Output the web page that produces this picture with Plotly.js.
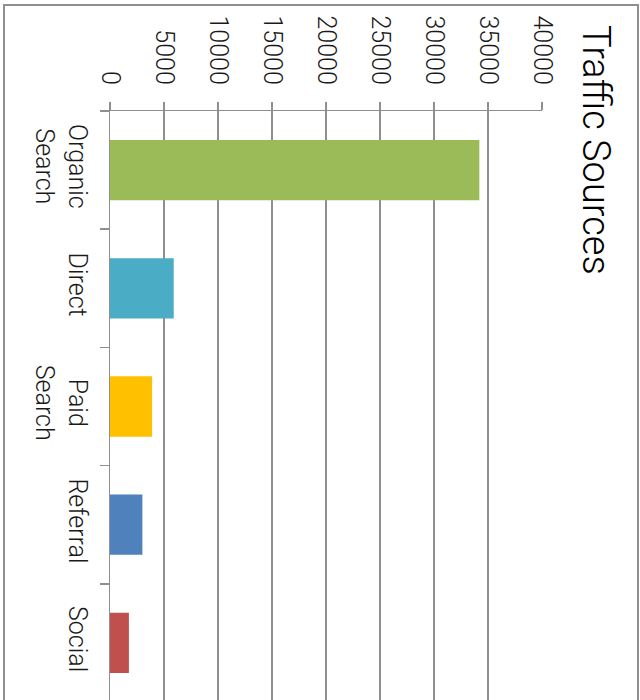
<!DOCTYPE html>
<html>
<head>
<meta charset="utf-8">
<script src="https://cdn.plot.ly/plotly-3.0.1.min.js"></script>
<style>
html,body{margin:0;padding:0;width:640px;height:700px;overflow:hidden;background:#fff;}
#chart{width:640px;height:720px;}
</style>
</head>
<body>
<div id="chart"></div>
<script>
const categories = ["Organic<br>Search", "Direct", "Paid<br>Search", "Referral", "Social"];
const sessions = [34200, 5900, 3900, 3000, 1750];
const barColors = ["#9BBB59", "#4BACC6", "#FFC000", "#4F81BD", "#C0504D"];
const valueTicks = [0, 5000, 10000, 15000, 20000, 25000, 30000, 35000, 40000];
const chartTitle = "Traffic Sources";

const W = 640, H = 720;
const L = 110, R = 98, T = 111, B = 18;
const pw = W - L - R, ph = H - T - B;
function px(x){ return (x - L) / pw; }
function py(y){ return (H - B - y) / ph; }

const FONT = "Roboto, 'Liberation Sans', sans-serif";

const trace = {
  type: "bar",
  orientation: "h",
  y: categories,
  x: sessions,
  marker: {color: barColors, line: {width: 0}},
  width: 0.51,
  hoverinfo: "skip"
};

const layout = {
  width: W, height: H,
  margin: {l: L, r: R, t: T, b: B, pad: 0},
  paper_bgcolor: "#ffffff",
  plot_bgcolor: "#ffffff",
  showlegend: false,
  font: {family: FONT, color: "#1a1a1a", weight: 300},
  xaxis: {
    side: "top",
    range: [0, 40000],
    tickvals: valueTicks,
    ticktext: valueTicks.map(String),
    tickangle: 90,
    tickfont: {family: FONT, size: 25, color: "#1a1a1a", weight: 300},
    showgrid: true, gridcolor: "#8f8f8f", gridwidth: 1.5,
    showline: true, linecolor: "#8f8f8f", linewidth: 1.5,
    ticks: "outside", ticklen: 8, tickcolor: "#8f8f8f", tickwidth: 1.5,
    ticklabelstandoff: 8,
    zeroline: false,
    fixedrange: true
  },
  yaxis: {
    range: [4.5, -0.5],
    type: "category",
    tickangle: 90,
    tickfont: {family: FONT, size: 25, color: "#1a1a1a", weight: 300},
    showgrid: false,
    showline: true, linecolor: "#8f8f8f", linewidth: 1.5,
    ticks: "outside", tickson: "boundaries", ticklen: 9, tickcolor: "#8f8f8f", tickwidth: 1.5,
    ticklabelstandoff: 10,
    zeroline: false,
    fixedrange: true
  },
  shapes: [{
    type: "rect", xref: "paper", yref: "paper",
    x0: px(4), x1: px(638), y0: py(716), y1: py(5),
    line: {color: "#8f8f8f", width: 2}, fillcolor: "rgba(0,0,0,0)", layer: "below"
  }],
  annotations: [{
    text: chartTitle, textangle: 90, showarrow: false,
    xref: "paper", yref: "paper",
    x: px(596), y: py(150), xanchor: "center", yanchor: "middle",
    font: {family: FONT, size: 38, color: "#000000", weight: 300}
  }]
};

Plotly.newPlot("chart", [trace], layout, {displayModeBar: false, staticPlot: true});
</script>
</body>
</html>
